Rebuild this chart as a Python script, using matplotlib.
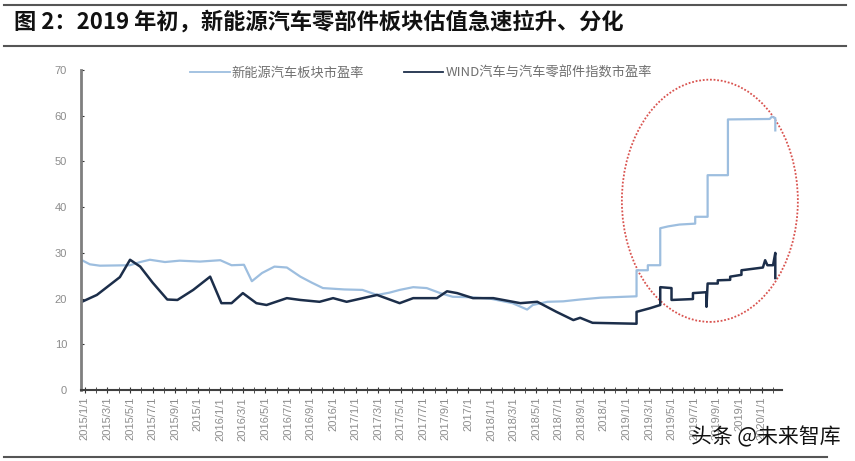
import matplotlib
matplotlib.use('Agg')
import matplotlib.pyplot as plt
from matplotlib.patches import Ellipse
from matplotlib.lines import Line2D

plt.rcParams['font.family'] = ['Noto Sans CJK SC', 'DejaVu Sans']

# 月份序号：0 = 2015/1/1，每 1 代表一个月
xin_months = [-0.27, 0.44, 1.33, 3.99, 4.9, 5.76, 7.1, 8.4, 10.2, 12.0, 13.0, 14.1, 14.8,
              15.7, 16.8, 17.9, 19.1, 20.1, 21.1, 23.0, 24.6, 25.9, 27.0, 27.9, 29.1,
              30.3, 31.5, 32.6, 34.1, 35.9, 37.9, 39.2, 39.7, 41.0, 42.4, 43.9, 45.7,
              48.9, 48.9, 49.9, 49.9, 51.0, 51.0, 51.7, 52.7, 54.1, 54.1, 55.2, 55.2,
              57.0, 57.0, 60.7, 60.9, 61.2, 61.2]
xin_pe = [28.4, 27.5, 27.2, 27.3, 28.0, 28.5, 28.0, 28.3, 28.1, 28.4, 27.3, 27.4, 23.8,
          25.6, 27.0, 26.8, 24.8, 23.5, 22.3, 22.0, 21.9, 20.8, 21.3, 21.9, 22.5,
          22.3, 21.2, 20.4, 20.3, 20.0, 19.0, 17.6, 18.6, 19.3, 19.4, 19.8, 20.2,
          20.5, 26.2, 26.2, 27.3, 27.3, 35.4, 35.8, 36.2, 36.4, 37.9, 37.9, 47.0,
          47.0, 59.2, 59.3, 59.8, 59.5, 56.8]

wind_months = [-0.27, 1.06, 1.95, 3.1, 4.0, 4.9, 6.0, 7.3, 8.2, 9.6, 11.1, 12.1, 13.0,
               14.0, 15.2, 16.1, 17.9, 19.1, 20.8, 22.0, 23.2, 25.9, 27.9, 29.1, 31.2,
               32.1, 33.0, 34.4, 36.2, 38.6, 40.1, 41.8, 43.3, 43.9, 45.0, 48.9, 48.9,
               50.1, 51.0, 51.0, 52.0, 52.0, 53.9, 53.9, 55.1, 55.1, 55.2, 56.1, 56.1,
               57.2, 57.2, 58.2, 58.2, 60.1, 60.3, 60.5, 61.0, 61.2, 61.2]
wind_pe = [19.3, 20.8, 22.5, 24.7, 28.5, 27.0, 23.5, 19.8, 19.7, 21.9, 24.8, 19.0, 19.0,
           21.2, 19.0, 18.6, 20.1, 19.7, 19.3, 20.1, 19.3, 20.8, 19.0, 20.1, 20.1,
           21.6, 21.2, 20.1, 20.1, 19.0, 19.3, 17.1, 15.3, 15.8, 14.7, 14.5, 17.1,
           17.9, 18.6, 22.5, 22.3, 19.7, 19.9, 21.2, 21.4, 18.2, 23.3, 23.3, 24.0,
           24.1, 24.8, 25.2, 26.2, 26.8, 28.4, 27.3, 27.3, 30.0, 24.5]

tick_labels = []
for yr in range(2015, 2020):
    for mo in [1, 3, 5, 7, 9]:
        tick_labels.append(f'{yr}/{mo}/1')
    tick_labels.append(f'{yr}/1')
tick_labels.append('2020/1/1')

fig = plt.figure(figsize=(8.55, 4.61), dpi=100)
ax = fig.add_axes([0.0947, 0.154, 0.82, 0.694])

ax.plot(xin_months, xin_pe, '-', c='#9DBEDF', lw=1.6, label='新能源汽车板块市盈率')
ax.plot(wind_months, wind_pe, '-', c='#1C2E4A', lw=1.8, label='WIND汽车与汽车零部件指数市盈率')

ell = Ellipse((55.4, 41.4), 15.6, 53, fill=False, ls=(0, (1, 1)), ec='#D9534F',
              lw=1.3, clip_on=False)
ax.add_patch(ell)

ax.set_xlim(-0.35, 61.8)
ax.set_ylim(0, 70)
ax.set_yticks(range(0, 71, 10))
ax.set_xticks(range(0, 61, 2))
ax.set_xticks(range(0, 62), minor=True)
ax.set_xticklabels(tick_labels, rotation=90, va='top', ha='center',
                   fontsize=8, color='#8C8C8C', family=['Liberation Sans', 'DejaVu Sans'])
for lb in ax.get_yticklabels():
    lb.set_fontfamily(['Liberation Sans', 'DejaVu Sans'])
ax.tick_params(axis='y', labelsize=8, labelcolor='#8C8C8C', direction='in', length=2,
               color='#333333', pad=10)
ax.tick_params(axis='x', which='both', direction='inout', length=4, color='#333333', pad=3)

ax.spines['left'].set_linewidth(2)
ax.spines['left'].set_color('#7F7F7F')
ax.spines['bottom'].set_linewidth(1.5)
ax.spines['bottom'].set_color('#404040')
ax.spines['right'].set_visible(False)
ax.spines['top'].set_visible(False)

leg = ax.legend(loc='center', bbox_to_anchor=(0.485, 0.99), ncol=2, frameon=False,
                fontsize=9.5, handlelength=3, handletextpad=0.15, columnspacing=3)
for t in leg.get_texts():
    t.set_color('#707070')
for h in leg.get_lines():
    h.set_linewidth(1.3)

# 标题与分隔线
fig.text(0.016, 0.952, '图 2：2019 年初，新能源汽车零部件板块估值急速拉升、分化',
         fontsize=16, fontweight='bold', va='center', ha='left', color='#111111')
fig.add_artist(Line2D([0.005, 0.99], [0.99, 0.99], color='#555555', lw=1.5))
fig.add_artist(Line2D([0.005, 0.99], [0.901, 0.901], color='#555555', lw=1.5))
fig.add_artist(Line2D([0.005, 0.967], [0.009, 0.009], color='#555555', lw=1.5))

fig.text(0.983, 0.052, '头条 @未来智库', fontsize=15, ha='right', va='center', color='#111111')

fig.savefig('out.png', dpi=100)
